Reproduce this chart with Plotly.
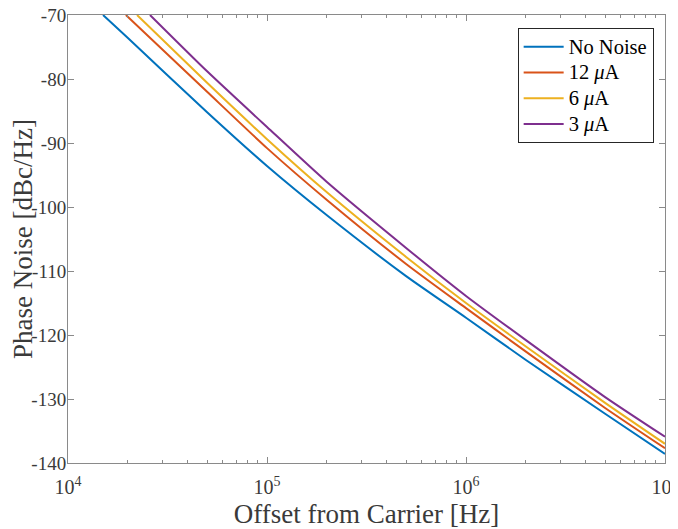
import plotly.graph_objects as go

# Offset frequencies (Hz) and phase noise readings (dBc/Hz) per series
freq_blue = [15000, 2e4, 5e4, 1e5, 2e5, 5e5, 1e6, 2e6, 5e6, 1e7]
pn_blue = [-70.0, -73.6, -85.2, -93.6, -101.3, -110.8, -117.3, -123.9, -132.3, -138.6]

freq_12 = [19540, 5e4, 1e5, 2e5, 5e5, 1e6, 2e6, 5e6, 1e7]
pn_12 = [-70.0, -82.0, -90.8, -98.9, -108.9, -115.8, -122.6, -131.4, -137.7]

freq_6 = [22230, 5e4, 1e5, 2e5, 5e5, 1e6, 2e6, 5e6, 1e7]
pn_6 = [-70.0, -80.6, -89.4, -97.7, -107.8, -115.0, -121.8, -130.6, -137.0]

freq_3 = [25820, 5e4, 1e5, 2e5, 5e5, 1e6, 2e6, 5e6, 1e7]
pn_3 = [-70.0, -78.8, -87.5, -96.1, -106.4, -113.9, -120.8, -129.7, -135.9]

names = ["No Noise", "12 <i>μ</i>A", "6 <i>μ</i>A", "3 <i>μ</i>A"]
colors = ["#0072BD", "#D95319", "#EDB120", "#7E2F8E"]

x_tickvals = [1e4, 1e5, 1e6, 1e7]
x_ticktext = ["10<sup>4</sup>", "10<sup>5</sup>", "10<sup>6</sup>", "10<sup>7</sup>"]
x_minor_vals = [m * d for d in (1e4, 1e5, 1e6) for m in range(2, 10)]
y_tickvals = [-140, -130, -120, -110, -100, -90, -80, -70]
y_ticktext = ["-140", "-130", "-120", "-110", "-100", "-90", "-80", "-70"]

series = [(freq_blue, pn_blue), (freq_12, pn_12), (freq_6, pn_6), (freq_3, pn_3)]

fig = go.Figure()
for (fx, fy), nm, c in zip(series, names, colors):
    fig.add_trace(go.Scatter(x=fx, y=fy, mode="lines",
                             name='<span style="font-size:20.5px">' + nm + '</span>',
                             line=dict(color=c, width=2, shape="spline", smoothing=0.6)))

font_family = "Liberation Serif"
axis_color = "#8a8a8a"
text_color = "#3a3a3a"

# page body has an 8px margin, so the figure is sized to fill the rest of the window
fig.update_layout(
    width=670, height=521,
    margin=dict(l=60, r=13, t=7, b=66),
    paper_bgcolor="white", plot_bgcolor="white",
    font=dict(family=font_family, size=19, color=text_color),
    showlegend=True,
    legend=dict(x=0.981, y=0.971, xanchor="right", yanchor="top",
                bordercolor="#262626", borderwidth=1, bgcolor="white",
                font=dict(family=font_family, size=17.5, color="#000000"),
                tracegroupgap=0, itemwidth=40),
    xaxis=dict(type="log", range=[4, 7], tickvals=x_tickvals, ticktext=x_ticktext,
               ticks="inside", ticklen=6, tickcolor=axis_color,
               showline=True, linecolor=axis_color, linewidth=1, mirror="ticks",
               showgrid=False, zeroline=False, automargin=False,
               ticklabeloverflow="allow", ticklabelstandoff=6,
               minor=dict(tickvals=x_minor_vals, ticks="inside", ticklen=3,
                          tickcolor=axis_color, showgrid=False),
               tickfont=dict(family=font_family, size=20, color=text_color),
               title=dict(text="Offset from Carrier [Hz]", standoff=10,
                          font=dict(family=font_family, size=27, color=text_color))),
    yaxis=dict(range=[-140, -70], tickvals=y_tickvals, ticktext=y_ticktext,
               ticks="inside", ticklen=6, tickcolor=axis_color,
               showline=True, linecolor=axis_color, linewidth=1, mirror="ticks",
               showgrid=False, zeroline=False, automargin=False,
               ticklabeloverflow="allow", ticklabelstandoff=-3,
               tickfont=dict(family=font_family, size=19, color=text_color),
               title=dict(text="Phase Noise [dBc/Hz]", standoff=4,
                          font=dict(family=font_family, size=27, color=text_color))),
)

fig.write_html("out.html")
